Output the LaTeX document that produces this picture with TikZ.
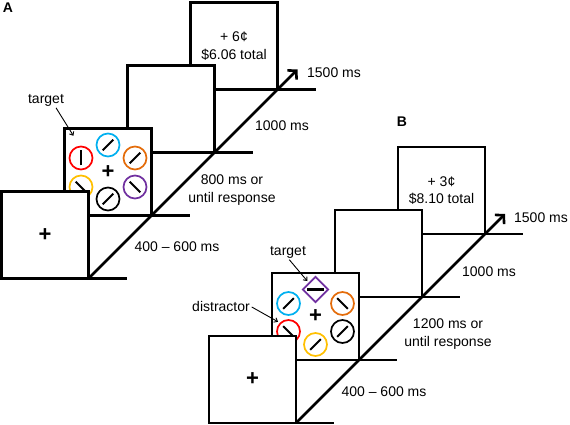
\documentclass[tikz,border=0pt]{standalone}
\usepackage{fontspec}
\setmainfont{Liberation Sans}
\usepackage{graphicx}
\usetikzlibrary{positioning,shapes.geometric,arrows.meta}

\definecolor{stimred}{RGB}{255,0,0}
\definecolor{stimcyan}{RGB}{0,176,240}
\definecolor{stimorange}{RGB}{228,108,10}
\definecolor{stimyellow}{RGB}{255,192,0}
\definecolor{stimpurple}{RGB}{112,48,160}

\newcommand{\stimbar}[1]{\rotatebox{#1}{\rule{2pt}{15pt}}}
\newcommand{\fixcross}{{\fontsize{22}{22}\selectfont\bfseries +}}

\begin{document}
\begin{tikzpicture}[
    x=1pt,y=1pt,
    every node/.style={font=\fontsize{14}{17.5}\selectfont},
    screen/.style={rectangle,draw,fill=white,line width=2.6pt,minimum size=87pt,inner sep=0pt,outer sep=0pt,align=center},
    stim/.style={circle,draw,line width=1.7pt,minimum size=23pt,inner sep=0pt},
    ground/.style={line width=2.6pt},
    timeline/.style={line width=2.6pt,-{Straight Barb[length=6pt,width=13pt]}},
    pointer/.style={line width=0.9pt,-{Straight Barb[length=3pt,width=5pt]},shorten <=2pt,shorten >=2pt},
    note/.style={align=center,inner sep=0pt},
    panel/.style={font=\fontsize{14}{14}\selectfont\bfseries,inner sep=0pt}
    ]
    \useasboundingbox (0,0) rectangle (570,425);

    % panel A
    \node(a4) [screen] at (234,379) {+ 6¢\\\$6.06 total};
    \node(a3) [screen,left=-24pt of a4,yshift=-63pt] {};
    \node(a2) [screen,left=-24pt of a3,yshift=-63pt] {\fixcross};
    \foreach \dx/\dy/\col/\tilt [count=\i] in {-27/14/stimred/0, 0/27/stimcyan/-45, 27/14/stimorange/-45, -27/-15/stimyellow/45, 0/-27/black/-45, 27/-15/stimpurple/45} {
        \node(a2s\i) [stim,draw=\col] at ([shift={(\dx,\dy)}]a2) {\stimbar{\tilt}};
    }
    \node(a1) [screen,left=-24pt of a2,yshift=-63pt] {\fixcross};

    \foreach \n in {1,2,3,4} {
        \draw[ground] (a\n.south east) -- ++(38,0);
    }
    \coordinate (aend) at ([shift={(20,20)}]a4.south east);
    \draw[timeline] (a1.south east) -- (aend);

    \node(da1) [note] at (177,178) {400 – 600 ms};
    \node(da2) [note] at (232,235) {800 ms or\\until response};
    \node(da3) [note] at (282,299) {1000 ms};
    \node(da4) [note] at (334,352) {1500 ms};
    \node(la) [panel] at (8,417) {A};
    \node(tga) [note] at (46,325) {target};
    \draw[pointer] ([xshift=9pt]tga.south) -- ([shift={(10,-9)}]a2.north west);

    % panel B
    \node(b4) [screen] at (441.5,234.5) {+ 3¢\\\$8.10 total};
    \node(b3) [screen,left=-24pt of b4,yshift=-63pt] {};
    \node(b2) [screen,left=-24pt of b3,yshift=-63pt] {\fixcross};
    \node(b2d) [stim,diamond,draw=stimpurple,minimum size=26pt] at ([shift={(0,27)}]b2) {\rule{17pt}{2.3pt}};
    \foreach \dx/\dy/\col/\tilt [count=\i] in {-27/13/stimcyan/-45, 27/13/stimorange/45, -27/-15/stimred/45, 27/-15/black/-45, 0/-28/stimyellow/-45} {
        \node(b2s\i) [stim,draw=\col] at ([shift={(\dx,\dy)}]b2) {\stimbar{\tilt}};
    }
    \node(b1) [screen,left=-24pt of b2,yshift=-63pt] {\fixcross};

    \foreach \n in {1,2,3,4} {
        \draw[ground] (b\n.south east) -- ++(38,0);
    }
    \coordinate (bend) at ([shift={(20,20)}]b4.south east);
    \draw[timeline] (b1.south east) -- (bend);

    \node(db1) [note] at (384,33) {400 – 600 ms};
    \node(db2) [note] at (448,91) {1200 ms or\\until response};
    \node(db3) [note] at (489,153) {1000 ms};
    \node(db4) [note] at (541,207) {1500 ms};
    \node(lb) [panel] at (402,303) {B};
    \node(tgb) [note] at (288,173) {target};
    \node(dsb) [note] at (221,119) {distractor};
    \draw[pointer] (tgb.south) -- (b2d.north west);
    \draw[pointer] (dsb.east) -- (b2s3.north west);

\end{tikzpicture}
\end{document}
